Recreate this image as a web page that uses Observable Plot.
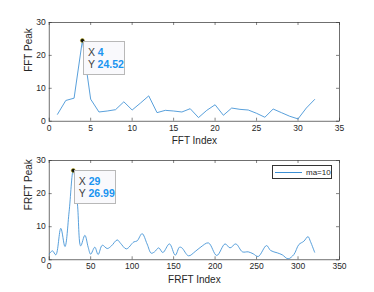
<!DOCTYPE html>
<html><head><meta charset="utf-8">
<script src="https://cdn.jsdelivr.net/npm/d3@7"></script>
<script src="https://cdn.jsdelivr.net/npm/@observablehq/plot@0.6"></script>
<style>
body{margin:0;background:#fff;font-family:"Liberation Sans",Arial,sans-serif;}
#wrap{position:relative;width:374px;height:292px;overflow:hidden;}
.panel{position:absolute;left:0;width:374px;height:146px;}
.tip{position:absolute;box-sizing:border-box;border:1px solid #b8b8b8;background:#f9f9fc;font-size:10.5px;color:#404040;line-height:12px;padding:4px 0 0 4px;white-space:nowrap;}
.tip b{color:#1a94f0;}
.leg{position:absolute;box-sizing:border-box;border:0.8px solid #333;background:#fff;font-size:8px;color:#262626;}
.leg .ln{position:absolute;left:2px;width:27px;top:50%;border-top:1px solid #3b8fd4;}
.leg span{position:absolute;left:33px;top:1.5px;}
</style></head>
<body><div id="wrap"></div>
<script>
// ---- data ----
const fftIndex = [1,2,3,4,5,6,7,8,9,10,11,12,13,14,15,16,17,18,19,20,21,22,23,24,25,26,27,28,29,30,31,32];
const fftPeak  = [2.1,6.3,7.0,24.52,6.7,2.8,3.1,3.5,5.9,3.4,5.5,7.7,2.6,3.3,3.1,2.8,3.8,1.1,3.3,5.0,1.8,4.0,3.6,3.4,2.4,1.2,3.7,2.6,1.5,0.7,4.0,6.6];
const frftIndex = [0,4,8,14,19,24,29,34,38,43,47,50,55,59,64,70,75,82,86,93,102,106,112,118,123,127,132,137,145,152,157,160,168,176,183,192,202,212,218,225,233,240,246,252,262,267,275,281,288,295,301,307,312,315,320];
const frftPeak  = [1.8,2.7,1.5,9.5,4.0,14.5,26.99,17,4.2,7.4,3.8,1.7,3.8,1.6,4.4,3.4,4.2,6.0,5.0,3.3,5.4,5.7,7.9,4.8,2.0,2.4,3.6,2.2,4.8,1.4,3.8,3.6,1.2,2.5,3.9,5.1,1.3,4.8,3.6,4.8,2.4,2.4,1.8,1.0,4.3,2.8,2.1,1.5,0.3,1.6,4.6,5.6,7.0,5.5,2.3];
const fftXTicks = [0,5,10,15,20,25,30,35];
const frftXTicks = [0,50,100,150,200,250,300,350];
const yTicks = [0,10,20,30];
const fftTip = [4, 24.52];
const frftTip = [29, 26.99];
const legendLabel = "ma=10";

const W = 374, H = 146;
const wrap = document.getElementById("wrap");

function panel({top, xs, ys, xDomain, xTicks, xLabel, yLabel, curve, tip, legend, mt, mb}) {
  const ml = 48.7, mr = 35;
  const iw = W - ml - mr, ih = H - mt - mb;
  const data = xs.map((x, i) => ({x, y: ys[i]}));
  const tl = 3;
  const plot = Plot.plot({
    width: W, height: H,
    marginLeft: ml, marginRight: mr, marginTop: mt, marginBottom: mb,
    style: {color: "#262626", fontFamily: "'Liberation Sans', Arial, sans-serif", background: "transparent"},
    x: {domain: xDomain},
    y: {domain: [0, 30]},
    marks: [
      Plot.frame({stroke: "#333", strokeWidth: 0.7}),
      Plot.tickX(xTicks, {x: d => d, insetTop: ih - tl, stroke: "#333", strokeWidth: 0.6}),
      Plot.tickX(xTicks, {x: d => d, insetBottom: ih - tl, stroke: "#333", strokeWidth: 0.6}),
      Plot.tickY(yTicks, {y: d => d, insetRight: iw - tl, stroke: "#333", strokeWidth: 0.6}),
      Plot.tickY(yTicks, {y: d => d, insetLeft: iw - tl, stroke: "#333", strokeWidth: 0.6}),
      Plot.axisX(xTicks, {tickSize: 0, tickPadding: 3.5, fontSize: 8.5, label: null}),
      Plot.axisY(yTicks, {tickSize: 0, tickPadding: 3.5, fontSize: 8.5, label: null}),
      Plot.text([xLabel], {frameAnchor: "bottom", dy: 20, text: d => d, fontSize: 10, lineAnchor: "middle"}),
      Plot.text([yLabel], {frameAnchor: "left", dx: -20, rotate: -90, text: d => d, fontSize: 10, lineAnchor: "middle"}),
      Plot.line(data, {x: "x", y: "y", stroke: "#3b8fd4", strokeWidth: 0.85, curve}),
      Plot.dot([tip], {x: d => d[0], y: d => d[1], r: 2, fill: "#111", stroke: "#c8b400", strokeWidth: 0.5})
    ]
  });
  const div = document.createElement("div");
  div.className = "panel";
  div.style.top = top + "px";
  div.appendChild(plot);
  wrap.appendChild(div);
  const sx = plot.scale("x"), sy = plot.scale("y");
  const fx = d3.scaleLinear(sx.domain, sx.range), fy = d3.scaleLinear(sy.domain, sy.range);
  const px = fx(tip[0]), py = fy(tip[1]);
  const t = document.createElement("div");
  t.className = "tip";
  t.style.left = (px + 1) + "px";
  t.style.top = (py + 0.5) + "px";
  t.style.width = "42px";
  t.style.height = "34px";
  t.innerHTML = "X <b>" + tip[0] + "</b><br>Y <b>" + tip[1].toFixed(2) + "</b>";
  div.appendChild(t);
  if (legend) {
    const l = document.createElement("div");
    l.className = "leg";
    const right = sx.range[1], ftop = sy.range[1];
    l.style.left = (right - 7 - 60) + "px";
    l.style.top = (ftop + 5) + "px";
    l.style.width = "60px";
    l.style.height = "13.5px";
    l.innerHTML = '<div class="ln"></div><span>' + legend + '</span>';
    div.appendChild(l);
  }
}

panel({top: 0, xs: fftIndex, ys: fftPeak, xDomain: [0, 35], xTicks: fftXTicks,
  xLabel: "FFT Index", yLabel: "FFT Peak", curve: "linear", tip: fftTip, mt: 22, mb: 25.3});
panel({top: 146, xs: frftIndex, ys: frftPeak, xDomain: [0, 350], xTicks: frftXTicks,
  xLabel: "FRFT Index", yLabel: "FRFT Peak", curve: "catmull-rom", tip: frftTip, legend: legendLabel, mt: 14, mb: 32.7});
</script></body></html>
